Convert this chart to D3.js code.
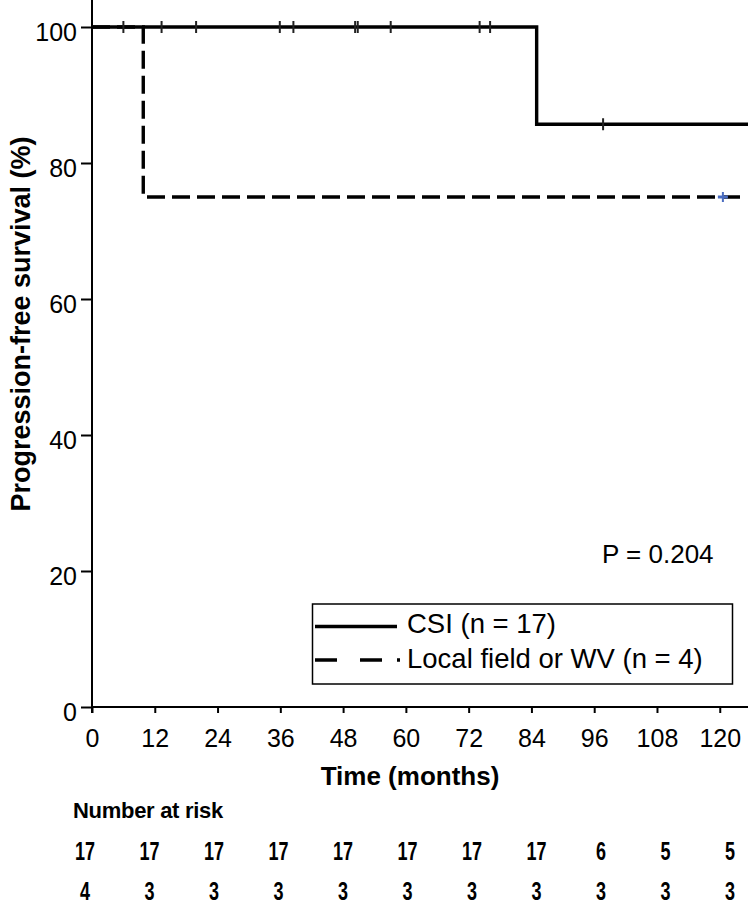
<!DOCTYPE html>
<html>
<head>
<meta charset="utf-8">
<script src="https://cdn.jsdelivr.net/npm/d3@7"></script>
<style>
  html, body { margin: 0; padding: 0; background: #fff; }
  svg { display: block; }
  text { font-family: "Liberation Sans", Arial, sans-serif; fill: #000; }
</style>
</head>
<body>
<svg id="chart" width="750" height="909"></svg>
<script>
// ---- data ----
const xTicks = [0, 12, 24, 36, 48, 60, 72, 84, 96, 108, 120];
const yTicks = [0, 20, 40, 60, 80, 100];
const csiSteps = [[0, 100], [85, 85.7]];          // [time, survival %]
const csiEnd = 125.4;
const csiCensor = [[6, 100], [13.3, 100], [19.9, 100], [35.9, 100], [38.5, 100],
                   [50.3, 100], [50.8, 100], [57.1, 100], [74.1, 100], [76.1, 100], [97.7, 85.7]];
const lfSteps = [[0, 100], [9.8, 75]];
const lfEnd = 124.9;
const lfCensor = [[120.6, 75]];
const seriesNames = ["CSI (n = 17)", "Local field or WV (n = 4)"];
const riskCSI = [17, 17, 17, 17, 17, 17, 17, 17, 6, 5, 5];
const riskLF = [4, 3, 3, 3, 3, 3, 3, 3, 3, 3, 3];
const pText = "P = 0.204";

// ---- layout ----
const svg = d3.select("#chart");
const x = d3.scaleLinear().domain([0, 125.4]).range([92, 748]);
const y = d3.scaleLinear().domain([0, 100]).range([707, 27]);
const FONT = '"Liberation Sans", Arial, sans-serif';

// axes
const yAxis = svg.append("g").attr("transform", "translate(92,0)")
  .call(d3.axisLeft(y).tickValues(yTicks).tickSize(11).tickPadding(4));
yAxis.select(".domain").attr("d", "M0,0V713");
yAxis.selectAll(".tick line").attr("stroke-width", 2);
yAxis.selectAll(".tick text").attr("font-size", 25).attr("dy", "0.52em")
  .style("font-family", FONT);

const xAxis = svg.append("g").attr("transform", "translate(0,707)")
  .call(d3.axisBottom(x).tickValues(xTicks).tickSize(6).tickPadding(4));
xAxis.select(".domain").attr("d", "M92,0H748");
xAxis.selectAll(".tick line").attr("stroke-width", 2);
xAxis.selectAll(".tick text").attr("font-size", 25).attr("y", 40).attr("dy", 0)
  .style("font-family", FONT);
svg.selectAll(".domain").attr("stroke", "#000").attr("stroke-width", 2);

// step path builder
function stepPath(steps, end) {
  const pts = [];
  steps.forEach((s, i) => {
    if (i > 0) pts.push([s[0], steps[i - 1][1]]);
    pts.push(s);
  });
  pts.push([end, steps[steps.length - 1][1]]);
  return d3.line().x(d => x(d[0])).y(d => y(d[1]))(pts);
}

svg.append("path").attr("d", stepPath(lfSteps, lfEnd))
  .attr("fill", "none").attr("stroke", "#000").attr("stroke-width", 3.4)
  .attr("stroke-dasharray", "18,7");
svg.append("path").attr("d", stepPath(csiSteps, csiEnd))
  .attr("fill", "none").attr("stroke", "#000").attr("stroke-width", 3.4);

// censor marks
svg.append("g").selectAll("line").data(csiCensor).join("line")
  .attr("x1", d => x(d[0])).attr("x2", d => x(d[0]))
  .attr("y1", d => y(d[1]) - 6).attr("y2", d => y(d[1]) + 6)
  .attr("stroke", "#222").attr("stroke-width", 2);
const lfc = svg.append("g").selectAll("g").data(lfCensor).join("g");
lfc.append("line")
  .attr("x1", d => x(d[0])).attr("x2", d => x(d[0]))
  .attr("y1", d => y(d[1]) - 5).attr("y2", d => y(d[1]) + 5)
  .attr("stroke", "#4a6cc0").attr("stroke-width", 2);
lfc.append("line")
  .attr("x1", d => x(d[0]) - 5).attr("x2", d => x(d[0]) + 5)
  .attr("y1", d => y(d[1])).attr("y2", d => y(d[1]))
  .attr("stroke", "#4a6cc0").attr("stroke-width", 3);

// axis titles
svg.append("text").attr("x", 410).attr("y", 785).attr("text-anchor", "middle")
  .attr("font-size", 26).attr("font-weight", "bold").text("Time (months)");
svg.append("text").attr("transform", "translate(30,324) rotate(-90)")
  .attr("text-anchor", "middle").attr("font-size", 27).attr("font-weight", "bold")
  .text("Progression-free survival (%)");

// p value
svg.append("text").attr("x", 602).attr("y", 563).attr("font-size", 26).text(pText);

// legend
svg.append("rect").attr("x", 312.5).attr("y", 604).attr("width", 420).attr("height", 80)
  .attr("fill", "#fff").attr("stroke", "#000").attr("stroke-width", 1.5);
svg.append("line").attr("x1", 315).attr("x2", 397).attr("y1", 626.5).attr("y2", 626.5)
  .attr("stroke", "#000").attr("stroke-width", 3.4);
svg.append("line").attr("x1", 315).attr("x2", 400).attr("y1", 660).attr("y2", 660)
  .attr("stroke", "#000").attr("stroke-width", 3.4)
  .attr("stroke-dasharray", "22,23,22,15,3,100");
svg.append("text").attr("x", 407).attr("y", 633).attr("font-size", 27.5).text(seriesNames[0]);
svg.append("text").attr("x", 407).attr("y", 668).attr("font-size", 27.5).text(seriesNames[1]);

// number at risk table
const col = d3.scalePoint().domain(xTicks).range([85, 730]);
svg.append("text").attr("x", 73).attr("y", 818).attr("font-size", 22).attr("font-weight", "bold")
  .attr("letter-spacing", -0.3).text("Number at risk");
[[riskCSI, 860], [riskLF, 900]].forEach(([row, yy]) => {
  svg.append("g").selectAll("text").data(row).join("text")
    .attr("transform", (d, i) => `translate(${col(xTicks[i])},${yy}) scale(0.72,1)`)
    .attr("text-anchor", "middle").attr("font-size", 25).attr("font-weight", "bold")
    .text(d => d);
});
</script>
</body>
</html>
